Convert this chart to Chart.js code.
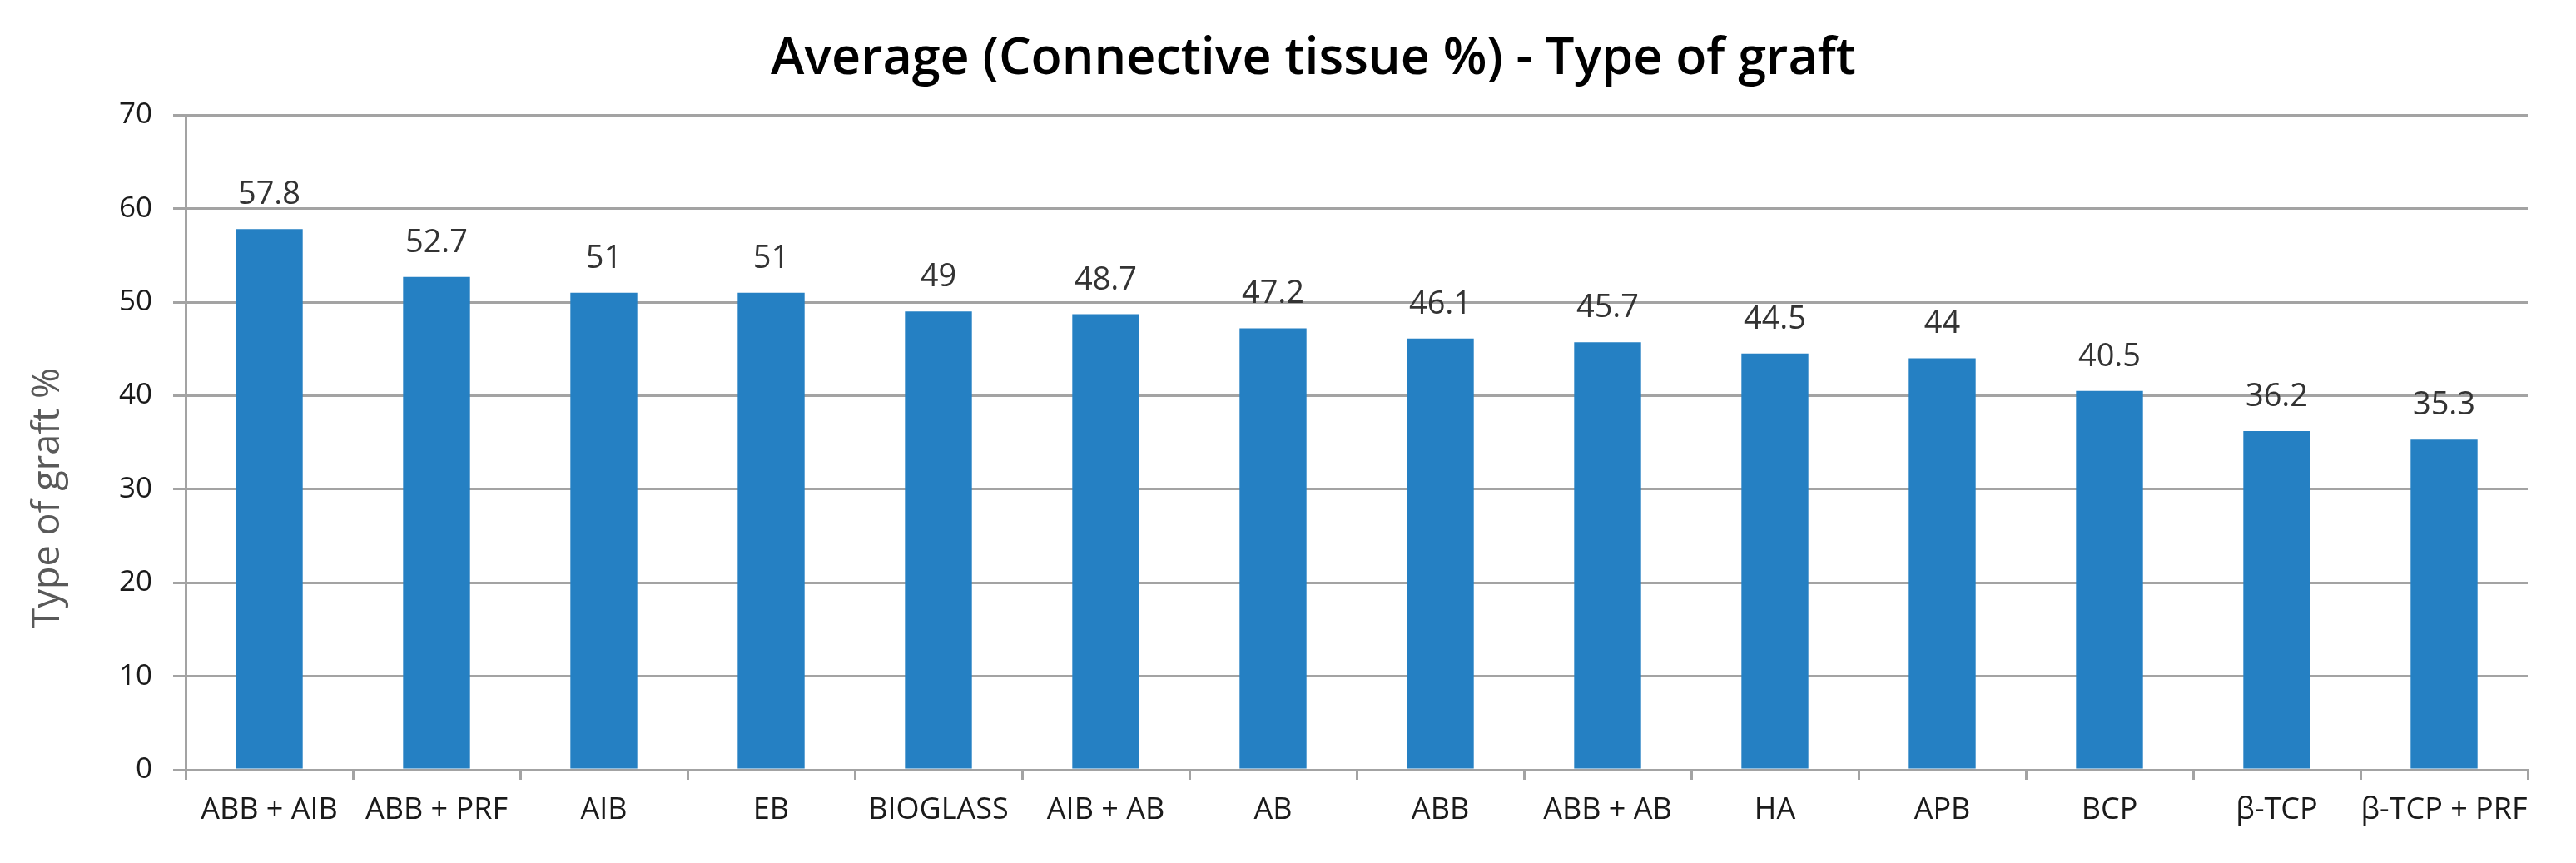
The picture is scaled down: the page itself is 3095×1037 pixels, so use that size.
<!DOCTYPE html>
<html>
<head>
<meta charset="utf-8">
<script src="https://cdn.jsdelivr.net/npm/chart.js@4.4.1/dist/chart.umd.min.js"></script>
<style>
html,body{margin:0;padding:0;background:#ffffff;}
#wrap{width:3095px;height:1037px;position:relative;}
</style>
</head>
<body>
<div id="wrap"><canvas id="c"></canvas></div>
<script>
const categories = ['ABB + AIB','ABB + PRF','AIB','EB','BIOGLASS','AIB + AB','AB','ABB','ABB + AB','HA','APB','BCP','β-TCP','β-TCP + PRF'];
const values = [57.8, 52.7, 51, 51, 49, 48.7, 47.2, 46.1, 45.7, 44.5, 44, 40.5, 36.2, 35.3];
const yTicks = [0, 10, 20, 30, 40, 50, 60, 70];
const chartTitle = 'Average (Connective tissue %) - Type of graft';
const yAxisTitle = 'Type of graft %';

Chart.defaults.font.family = '"Open Sans", sans-serif';

const valueLabels = {
  id: 'valueLabels',
  afterDatasetsDraw(chart) {
    const ctx = chart.ctx;
    const meta = chart.getDatasetMeta(0);
    ctx.save();
    ctx.font = '38px "Open Sans"';
    ctx.fillStyle = '#333333';
    ctx.textAlign = 'center';
    ctx.textBaseline = 'alphabetic';
    meta.data.forEach((bar, i) => {
      ctx.fillText(String(values[i]), bar.x, bar.y - 30);
    });
    ctx.restore();
  }
};

const yTitle = {
  id: 'yTitle',
  afterDraw(chart) {
    const ctx = chart.ctx;
    const area = chart.chartArea;
    ctx.save();
    ctx.translate(58, (area.top + area.bottom) / 2 + 67);
    ctx.rotate(-Math.PI / 2);
    ctx.font = '45px "Open Sans"';
    ctx.fillStyle = '#595959';
    ctx.textAlign = 'center';
    ctx.textBaseline = 'middle';
    ctx.fillText(yAxisTitle, 0, 0);
    ctx.restore();
  }
};

const gridColor = '#a3a3a3';

new Chart(document.getElementById('c'), {
  type: 'bar',
  data: {
    labels: categories,
    datasets: [{
      data: values,
      backgroundColor: '#2580c3',
      borderWidth: 0,
      categoryPercentage: 0.4,
      barPercentage: 1.0
    }]
  },
  options: {
    responsive: true,
    maintainAspectRatio: false,
    devicePixelRatio: 1,
    animation: false,
    layout: { padding: { left: 119, right: 58, top: 0, bottom: 42 } },
    plugins: {
      legend: { display: false },
      tooltip: { enabled: false },
      title: {
        display: true,
        text: chartTitle,
        color: '#000000',
        font: { size: 61, weight: '600', family: '"Open Sans", sans-serif' },
        padding: { top: 35, bottom: 30 }
      }
    },
    scales: {
      x: {
        offset: true,
        grid: { display: true, drawOnChartArea: false, drawTicks: true, tickLength: 12, color: gridColor, lineWidth: 3, offset: true },
        border: { display: true, color: gridColor, width: 3 },
        ticks: { color: '#1a1a1a', font: { size: 36 }, padding: 15, maxRotation: 0, autoSkip: false },
        afterFit(scale) { scale.height = 70; }
      },
      y: {
        min: 0,
        max: 70,
        afterBuildTicks(scale) { scale.ticks = yTicks.map(v => ({ value: v })); },
        grid: { color: gridColor, lineWidth: 3, tickLength: 15, drawTicks: true },
        border: { display: true, color: gridColor, width: 3 },
        ticks: { color: '#1a1a1a', font: { size: 35 }, padding: 25 },
        afterFit(scale) { scale.width = 104; }
      }
    }
  },
  plugins: [valueLabels, yTitle]
});
</script>
</body>
</html>
